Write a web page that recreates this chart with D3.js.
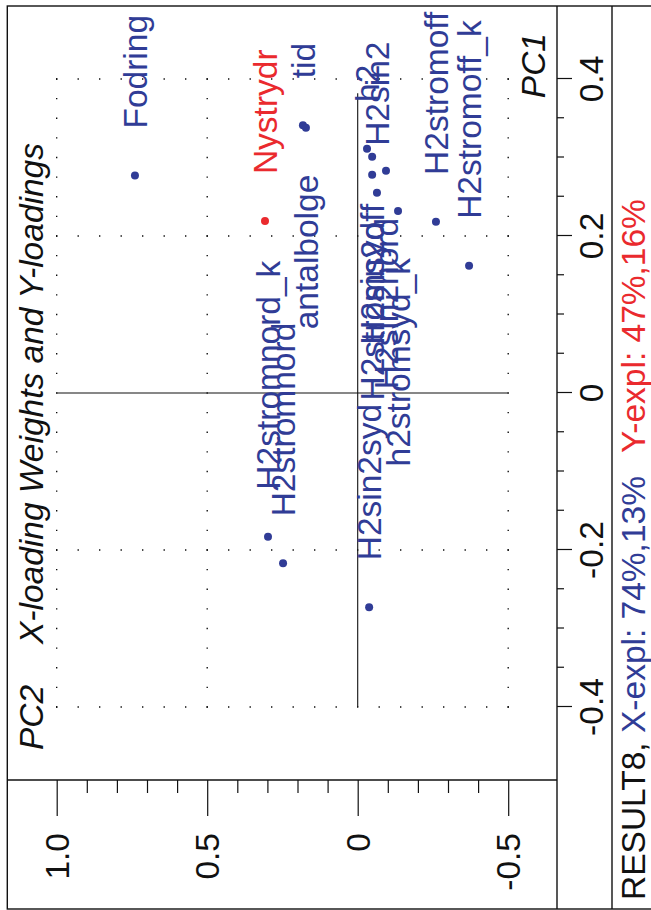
<!DOCTYPE html>
<html>
<head>
<meta charset="utf-8">
<script src="https://cdn.jsdelivr.net/npm/d3@7"></script>
<style>
  html, body { margin: 0; padding: 0; background: #fff; }
  svg { display: block; }
  text { font-family: "Liberation Sans", Arial, Helvetica, sans-serif; }
</style>
</head>
<body>
<svg id="chart" width="651" height="910"></svg>
<script>
// ---------------- data ----------------
const variables = ["Fodring", "Nystrydr", "tid", "antalbolge", "H2stromnord_k", "H2stromnord",
  "h2", "H2sin2off", "H2stromsyd", "H2sin2nord", "H2sin2", "h2stromsyd_k",
  "H2stromoff", "H2stromoff_k", "H2sin2syd"];
const pc1Values = [0.277, 0.219, 0.341, 0.338, -0.183, -0.217,
  0.311, 0.301, 0.278, 0.283, 0.255, 0.232,
  0.218, 0.162, -0.273];
const pc2Values = [0.740, 0.308, 0.182, 0.172, 0.298, 0.248,
  -0.031, -0.048, -0.048, -0.094, -0.064, -0.134,
  -0.260, -0.370, -0.038];
const loadingType = ["X", "Y", "X", "X", "X", "X",
  "X", "X", "X", "X", "X", "X",
  "X", "X", "X"];
const pc1Ticks = d3.range(-8, 9).map(i => i * 0.05);
const pc1Labels = [-0.4, -0.2, 0, 0.2, 0.4];
const pc2Ticks = d3.range(-5, 11).map(i => i / 10);
const pc2Labels = [-0.5, 0, 0.5, 1.0];
const resultName = "RESULT8";
const xExpl = [74, 13];
const yExpl = [47, 16];
const titleText = "X-loading Weights and Y-loadings";

// labels that sit on the left of their point (to avoid collisions)
const leftLabeled = new Set(["antalbolge", "H2sin2off", "H2stromsyd", "H2sin2nord", "h2stromsyd_k"]);

const BLUE = "#303c96";
const RED = "#ea2a2e";
const FS = 33.5;

// ---------------- drawing (landscape chart, rotated) ----------------
const svg = d3.select("#chart");
svg.append("rect").attr("width", 651).attr("height", 910).attr("fill", "#fff");
const g = svg.append("g").attr("transform", "translate(0,910) rotate(-90)");

const x = d3.scaleLinear().domain([-0.4, 0.4]).range([203, 831]);
const y = d3.scaleLinear().domain([-0.5, 1.0]).range([508.2, 56.7]);

const plotLeft = 130, plotBottom = 557, footerLine = 612;

// frame
g.append("rect").attr("x", 1).attr("y", 7.3).attr("width", 903).attr("height", 700)
  .attr("fill", "none").attr("stroke", "#111").attr("stroke-width", 1.4);
g.append("line").attr("x1", 1).attr("x2", 904).attr("y1", plotBottom).attr("y2", plotBottom)
  .attr("stroke", "#111").attr("stroke-width", 1.4);
g.append("line").attr("x1", 1).attr("x2", 904).attr("y1", footerLine).attr("y2", footerLine)
  .attr("stroke", "#111").attr("stroke-width", 1.4);
g.append("line").attr("x1", plotLeft).attr("x2", plotLeft).attr("y1", 7.3).attr("y2", plotBottom)
  .attr("stroke", "#111").attr("stroke-width", 1.4);

// dotted grid
const gridG = g.append("g").attr("stroke", "#000").attr("stroke-width", 1.3);
[-0.4, -0.2, 0.2, 0.4].forEach(v => {
  gridG.append("line").attr("x1", x(v)).attr("x2", x(v)).attr("y1", y(1.0) - 0.65).attr("y2", y(-0.5) + 1)
    .attr("stroke-dasharray", `1.3,${(y(-0.5) - y(1.0)) / 21 - 1.3}`);
});
[1.0, 0.5, -0.5].forEach(v => {
  gridG.append("line").attr("y1", y(v)).attr("y2", y(v)).attr("x1", x(-0.4) - 0.65).attr("x2", x(0.4) + 1)
    .attr("stroke-dasharray", `1.3,${(x(0.4) - x(-0.4)) / 32 - 1.3}`);
});

// solid zero lines
g.append("line").attr("x1", x(0)).attr("x2", x(0)).attr("y1", y(1.0)).attr("y2", y(-0.5))
  .attr("stroke", "#111").attr("stroke-width", 1.1);
g.append("line").attr("y1", y(0)).attr("y2", y(0)).attr("x1", x(-0.4)).attr("x2", x(0.382))
  .attr("stroke", "#111").attr("stroke-width", 1.1);

const fmt = d => Math.abs(d) < 1e-9 ? "0" : d.toFixed(1);
const isIn = (arr, d) => arr.some(v => Math.abs(v - d) < 1e-9);

// PC1 axis (bottom)
const axB = g.append("g").attr("transform", `translate(0,${plotBottom})`);
axB.call(d3.axisBottom(x).tickValues(pc1Ticks)
  .tickSize(1).tickFormat(""));
axB.select(".domain").remove();
axB.selectAll(".tick line").attr("y2", d => isIn(pc1Labels, d) ? 15 : 7)
  .attr("stroke", "#111").attr("stroke-width", 1.2);
pc1Labels.forEach(v => {
  g.append("text").attr("x", x(v)).attr("y", 603).attr("text-anchor", "middle")
    .attr("font-size", FS).attr("fill", "#111").text(fmt(v));
});

// PC2 axis (left)
const axL = g.append("g").attr("transform", `translate(${plotLeft},0)`);
axL.call(d3.axisLeft(y).tickValues(pc2Ticks).tickSize(1).tickFormat(""));
axL.select(".domain").remove();
axL.selectAll(".tick line").attr("x2", d => isIn(pc2Labels, d) ? -36 : -13)
  .attr("stroke", "#111").attr("stroke-width", 1.2);
pc2Labels.forEach(v => {
  g.append("text").attr("x", 77).attr("y", y(v)).attr("dy", "0.36em").attr("text-anchor", "end")
    .attr("font-size", FS).attr("fill", "#111").text(fmt(v));
});

// titles
g.append("text").attr("x", 160).attr("y", 43).attr("font-size", FS).attr("font-style", "italic")
  .attr("fill", "#111").text("PC2");
g.append("text").attr("x", 266).attr("y", 43).attr("font-size", FS).attr("font-style", "italic")
  .attr("fill", "#111").text(titleText);
g.append("text").attr("x", 877).attr("y", 545).attr("text-anchor", "end").attr("font-size", FS)
  .attr("font-style", "italic").attr("fill", "#111").text("PC1");

// points
const pts = variables.map((name, i) => ({ name, pc1: pc1Values[i], pc2: pc2Values[i], type: loadingType[i] }));
const colorOf = d => d.type === "Y" ? RED : BLUE;
g.append("g").selectAll("circle").data(pts).join("circle")
  .attr("cx", d => x(d.pc1)).attr("cy", d => y(d.pc2)).attr("r", 4)
  .attr("fill", colorOf);
g.append("g").selectAll("text").data(pts).join("text")
  .attr("x", d => leftLabeled.has(d.name) ? x(d.pc1) - 47 : x(d.pc1) + 47)
  .attr("y", d => y(d.pc2)).attr("dy", "0.36em")
  .attr("text-anchor", d => leftLabeled.has(d.name) ? "end" : "start")
  .attr("font-size", FS).attr("fill", colorOf).text(d => d.name);

// footer
g.append("text").attr("x", 10).attr("y", 645).attr("font-size", FS).attr("fill", "#111").text(resultName + ",");
g.append("text").attr("x", 177).attr("y", 645).attr("font-size", FS).attr("fill", BLUE)
  .text(`X-expl: ${xExpl[0]}%,${xExpl[1]}%`);
g.append("text").attr("x", 457).attr("y", 645).attr("font-size", FS).attr("fill", RED)
  .text(`Y-expl: ${yExpl[0]}%,${yExpl[1]}%`);
</script>
</body>
</html>
